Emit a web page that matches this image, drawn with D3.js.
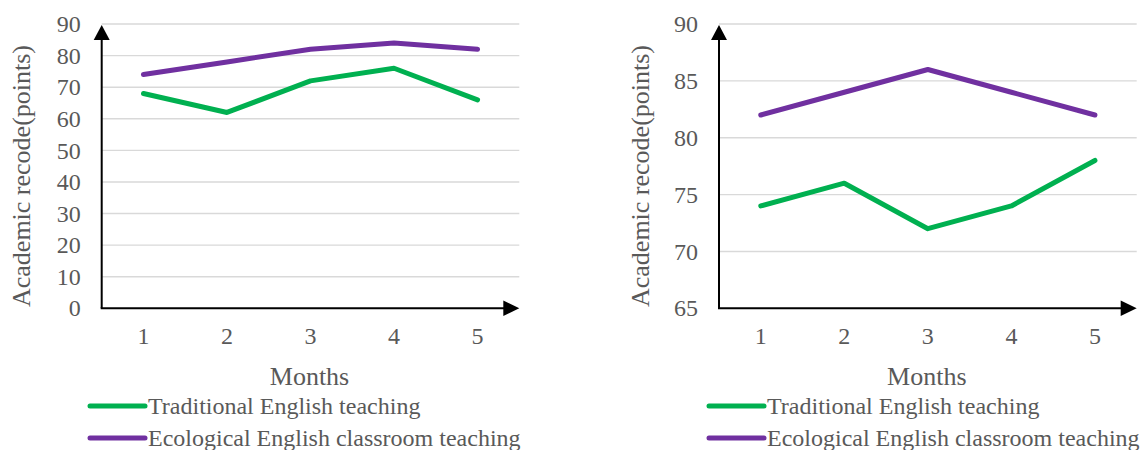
<!DOCTYPE html>
<html>
<head>
<meta charset="utf-8">
<script src="https://cdn.jsdelivr.net/npm/d3@7"></script>
<style>
  html, body { margin: 0; padding: 0; background: #fff; }
  svg { display: block; }
  text { font-family: "Liberation Serif", "Times New Roman", serif; fill: #595959; }
</style>
</head>
<body>
<svg id="chart" width="1142" height="450"></svg>
<script>
// Monthly academic records for the two teaching approaches
const months = ["1", "2", "3", "4", "5"];
const leftTraditional = [68, 62, 72, 76, 66];
const leftEcological = [74, 78, 82, 84, 82];
const rightTraditional = [74, 76, 72, 74, 78];
const rightEcological = [82, 84, 86, 84, 82];
const leftTicks = [0, 10, 20, 30, 40, 50, 60, 70, 80, 90];
const rightTicks = [65, 70, 75, 80, 85, 90];
const seriesNames = ["Traditional English teaching", "Ecological English classroom teaching"];
const seriesColors = ["#00B050", "#7030A0"];

const svg = d3.select("#chart");

function drawPanel(cfg) {
  const g = svg.append("g");
  const x = d3.scaleBand().domain(months).range([cfg.x0, cfg.x1]).padding(0);
  const y = d3.scaleLinear().domain(cfg.domain).range([cfg.yBottom, cfg.yTop]);
  const cx = d => x(d) + x.bandwidth() / 2;

  // horizontal gridlines
  g.append("g")
    .selectAll("line")
    .data(cfg.ticks.filter(t => t !== cfg.domain[0]))
    .join("line")
    .attr("x1", cfg.x0).attr("x2", cfg.x1)
    .attr("y1", d => y(d)).attr("y2", d => y(d))
    .attr("stroke", "#D9D9D9").attr("stroke-width", 1.4);

  // y tick labels
  const yAxis = g.append("g")
    .attr("transform", `translate(${cfg.x0},0)`)
    .call(d3.axisLeft(y).tickValues(cfg.ticks).tickSize(0).tickPadding(21));
  yAxis.select(".domain").remove();
  yAxis.selectAll("text")
    .attr("font-size", 24)
    .attr("font-family", "Liberation Serif, Times New Roman, serif")
    .attr("fill", "#595959");

  // x tick labels
  const xAxis = g.append("g")
    .attr("transform", `translate(0,${cfg.yBottom})`)
    .call(d3.axisBottom(x).tickSize(0).tickPadding(19));
  xAxis.select(".domain").remove();
  xAxis.selectAll("text")
    .attr("font-size", 24)
    .attr("font-family", "Liberation Serif, Times New Roman, serif")
    .attr("fill", "#595959");

  // axis lines with arrowheads
  const top = cfg.yTop + 1;
  g.append("line")
    .attr("x1", cfg.x0).attr("x2", cfg.x0)
    .attr("y1", cfg.yBottom).attr("y2", top + 12)
    .attr("stroke", "#000").attr("stroke-width", 2);
  g.append("path")
    .attr("d", `M${cfg.x0},${top} L${cfg.x0 - 8},${top + 15} L${cfg.x0 + 8},${top + 15} Z`)
    .attr("fill", "#000");
  g.append("line")
    .attr("x1", cfg.x0 - 1).attr("x2", cfg.x1 - 12)
    .attr("y1", cfg.yBottom).attr("y2", cfg.yBottom)
    .attr("stroke", "#000").attr("stroke-width", 2);
  g.append("path")
    .attr("d", `M${cfg.x1},${cfg.yBottom} L${cfg.x1 - 16},${cfg.yBottom - 7.7} L${cfg.x1 - 16},${cfg.yBottom + 7.7} Z`)
    .attr("fill", "#000");

  // series lines
  const line = d3.line().x((d, i) => cx(months[i])).y(d => y(d));
  [cfg.traditional, cfg.ecological].forEach((vals, k) => {
    g.append("path")
      .datum(vals)
      .attr("d", line)
      .attr("fill", "none")
      .attr("stroke", seriesColors[k])
      .attr("stroke-width", 5)
      .attr("stroke-linecap", "round")
      .attr("stroke-linejoin", "round");
  });

  // axis titles
  g.append("text")
    .attr("transform", `translate(${cfg.titleX},176) rotate(-90)`)
    .attr("dy", "0.35em")
    .attr("text-anchor", "middle")
    .attr("font-size", 26)
    .text("Academic recode(points)");
  g.append("text")
    .attr("x", (cfg.x0 + cfg.x1) / 2 - 1)
    .attr("y", 385)
    .attr("text-anchor", "middle")
    .attr("font-size", 26)
    .text("Months");

  // legend
  const lg = g.append("g");
  seriesNames.forEach((name, k) => {
    const ly = 406 + k * 32;
    lg.append("line")
      .attr("x1", cfg.legendX).attr("x2", cfg.legendX + 55)
      .attr("y1", ly).attr("y2", ly)
      .attr("stroke", seriesColors[k]).attr("stroke-width", 5)
      .attr("stroke-linecap", "round");
    lg.append("text")
      .attr("x", cfg.legendX + 58)
      .attr("y", ly + 8)
      .attr("font-size", 24)
      .text(name);
  });
}

drawPanel({
  x0: 101.7, x1: 519.3, yTop: 24, yBottom: 308.3,
  domain: [0, 90], ticks: leftTicks,
  traditional: leftTraditional, ecological: leftEcological,
  titleX: 21, legendX: 90
});

drawPanel({
  x0: 719, x1: 1136.7, yTop: 24, yBottom: 308.3,
  domain: [65, 90], ticks: rightTicks,
  traditional: rightTraditional, ecological: rightEcological,
  titleX: 640, legendX: 709
});
</script>
</body>
</html>
